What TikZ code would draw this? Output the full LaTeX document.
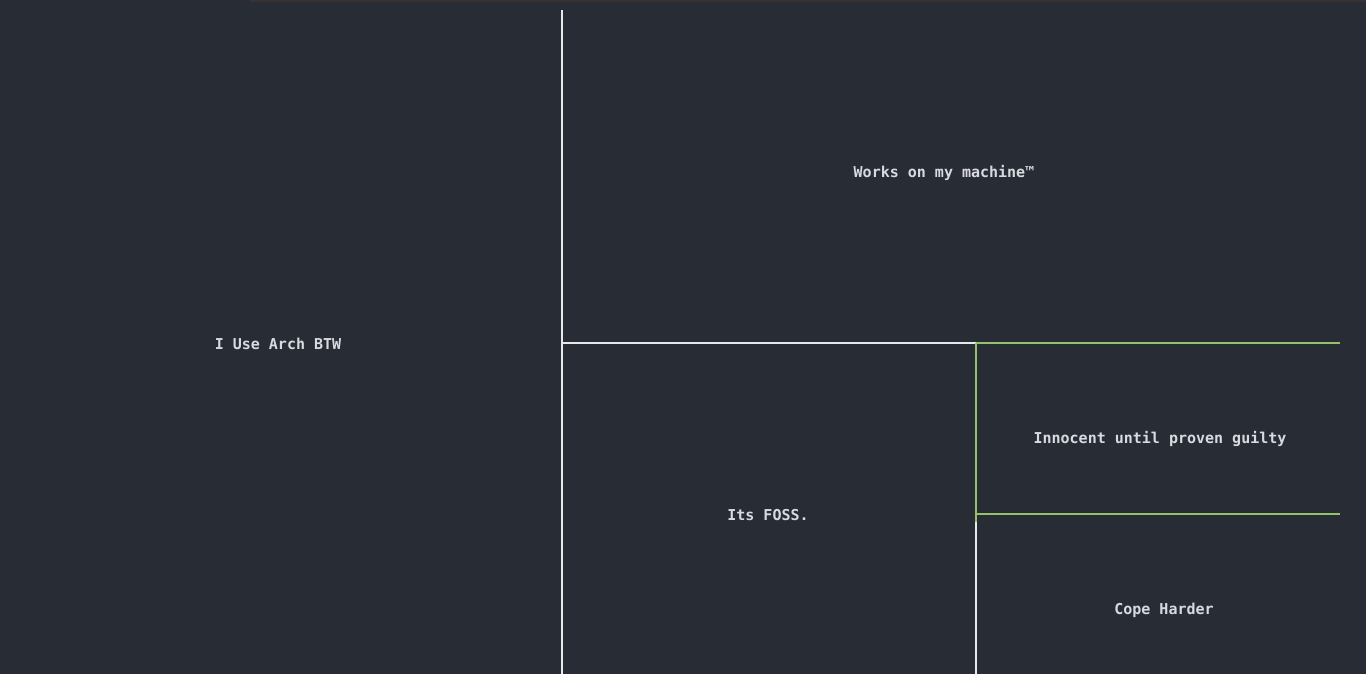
\documentclass[tikz,border=0pt]{standalone}
\usepackage{fontspec}
\setmonofont{DejaVu Sans Mono}
\definecolor{bg}{HTML}{282C34}
\definecolor{wline}{HTML}{E8E8EC}
\definecolor{gline}{HTML}{93C26A}
\definecolor{txt}{HTML}{D8DAE0}
\definecolor{topstrip}{HTML}{3A3030}
\begin{document}
\begin{tikzpicture}[x=1pt,y=-1pt,
  lbl/.style={text=txt,font=\ttfamily\bfseries\fontsize{15}{17}\selectfont,inner sep=0pt,anchor=center},
  wl/.style={draw=wline,line width=2pt},
  gl/.style={draw=gline,line width=2pt}]
\fill[bg] (0,0) rectangle (1366,674);
\useasboundingbox (0,0) rectangle (1366,674);
\fill[topstrip] (250,0) rectangle (1366,2);
\coordinate (vtop) at (562,10);
\coordinate (vbot) at (562,674);
\coordinate (hl) at (562,343);
\coordinate (hm) at (976,343);
\coordinate (hr) at (1340,343);
\coordinate (gm) at (976,514);
\coordinate (gr) at (1340,514);
\coordinate (gv) at (976,522);
\coordinate (bb) at (976,674);
\draw[wl] (vtop) -- (vbot);
\draw[wl] (hl) -- (hm);
\draw[wl] (gv) -- (bb);
\draw[gl] (hm) -- (hr);
\draw[gl] (hm) -- (gv);
\draw[gl] (gm) -- (gr);
\node[lbl] (works) at (944,173) {Works on my machine™};
\node[lbl] (arch) at (278,344) {I Use Arch BTW};
\node[lbl] (innocent) at (1160,439) {Innocent until proven guilty};
\node[lbl] (foss) at (768,515) {Its FOSS.};
\node[lbl] (cope) at (1164,610) {Cope Harder};
\end{tikzpicture}
\end{document}
